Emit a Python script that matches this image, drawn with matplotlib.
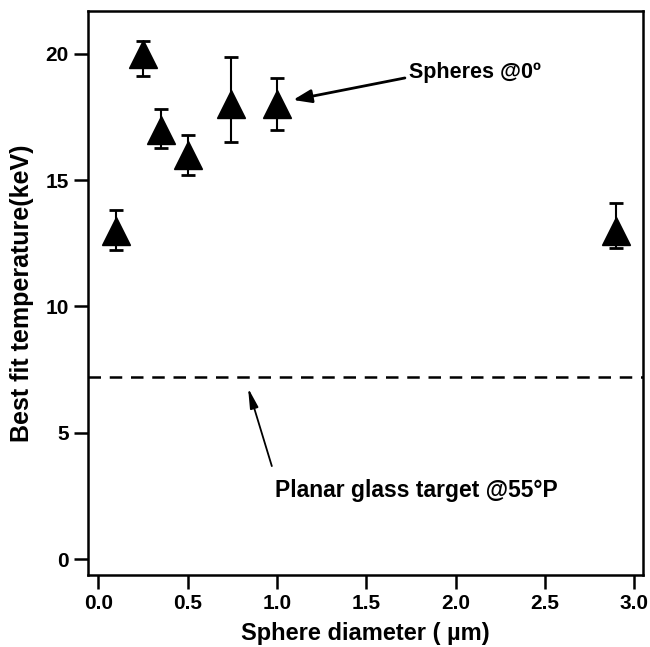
import matplotlib
matplotlib.use("Agg")
import matplotlib.pyplot as plt

plt.rcParams['font.family'] = ['Liberation Sans', 'DejaVu Sans']
plt.rcParams['font.weight'] = 'bold'

# sphere diameter (um) vs best fit temperature (keV)
diameter = [0.1, 0.25, 0.35, 0.5, 0.74, 1.0, 2.9]
temperature = [13.0, 20.0, 17.0, 16.0, 18.0, 18.0, 13.0]
err_low = [0.77, 0.9, 0.72, 0.8, 1.5, 1.0, 0.7]
err_high = [0.82, 0.5, 0.83, 0.8, 1.85, 1.05, 1.08]
planar_temp = 7.2

fig = plt.figure(figsize=(6.5, 6.47), dpi=100)
ax = fig.add_axes([0.1354, 0.1113, 0.8536, 0.8717])

ax.errorbar(diameter, temperature, yerr=[err_low, err_high], fmt='^', color='black',
            ms=20, ecolor='black', elinewidth=1.5, capsize=5, capthick=2, zorder=3)
ax.axhline(planar_temp, color='black', lw=1.8, dashes=(5, 3.5))

# arrows drawn on their own, labels placed separately
ax.annotate("", xy=(1.09, 18.17), xytext=(1.716, 19.04),
            arrowprops=dict(arrowstyle='-|>,head_length=1.1,head_width=0.4',
                            color='black', lw=2, shrinkA=0, shrinkB=0))
ax.text(1.74, 19.24, "Spheres @0º", fontsize=15.5, fontweight='bold', va='center', ha='left')

ax.annotate("", xy=(0.838, 6.77), xytext=(0.971, 3.68),
            arrowprops=dict(arrowstyle='-|>,head_length=1.2,head_width=0.25',
                            color='black', lw=1.3, shrinkA=0, shrinkB=0))
ax.text(0.988, 2.73, "Planar glass target @55°P", fontsize=16.5, fontweight='bold',
        va='center', ha='left')

ax.set_xlim(-0.058, 3.048)
ax.set_ylim(-0.63, 21.69)
ax.set_xticks([0.0, 0.5, 1.0, 1.5, 2.0, 2.5, 3.0])
ax.set_xticklabels(['0.0', '0.5', '1.0', '1.5', '2.0', '2.5', '3.0'])
ax.set_yticks([0, 5, 10, 15, 20])
ax.tick_params(direction='out', length=10, width=1.8, labelsize=15, pad=4)
for s in ax.spines.values():
    s.set_linewidth(1.8)

ax.set_xlabel("Sphere diameter ( µm)", fontsize=17, fontweight='bold', labelpad=6)
ax.set_ylabel("Best fit temperature(keV)", fontsize=18, fontweight='bold', labelpad=8)

fig.savefig("out.png", dpi=100)
